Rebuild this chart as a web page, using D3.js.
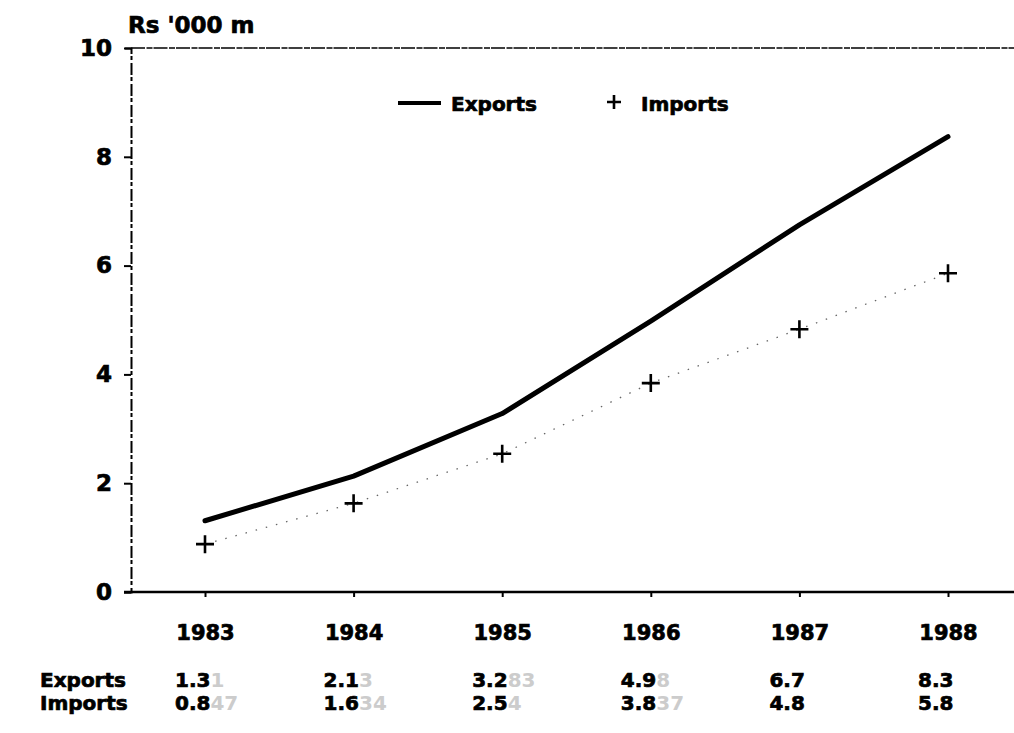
<!DOCTYPE html>
<html>
<head>
<meta charset="utf-8">
<script src="https://cdn.jsdelivr.net/npm/d3@7"></script>
<style>
  body { margin: 0; background: #fff; }
  text { font-family: "DejaVu Sans", sans-serif; font-weight: bold; fill: #000; stroke: #000; stroke-width: 0.7px; }
</style>
</head>
<body>
<script>
var width = 1014,
    height = 733;

// data
var years = [1983, 1984, 1985, 1986, 1987, 1988];
var exports = [1.31, 2.13, 3.28, 4.98, 6.75, 8.37];
var imports = [0.88, 1.63, 2.54, 3.84, 4.83, 5.86];
var yTicks = [0, 2, 4, 6, 8, 10];

// table text: clear part + smudged part
var exportLabels = [["1.3", "1"], ["2.1", "3"], ["3.2", "83"], ["4.9", "8"], ["6.7", ""], ["8.3", ""]];
var importLabels = [["0.8", "47"], ["1.6", "34"], ["2.5", "4"], ["3.8", "37"], ["4.8", ""], ["5.8", ""]];

var svg = d3.select("body").append("svg")
    .attr("width", width)
    .attr("height", height)
    .style("background", "#fff");

var x = d3.scaleLinear().domain([1983, 1988]).range([205, 948]);
var y = d3.scaleLinear().domain([0, 10]).range([592, 48]);

// top frame line
svg.append("line")
    .attr("x1", 131).attr("x2", 1014)
    .attr("y1", y(10)).attr("y2", y(10))
    .attr("stroke", "#000")
    .attr("stroke-width", 1.6)
    .attr("stroke-dasharray", "14,1.5,6,1");

// y axis
var yAxis = svg.append("g")
    .attr("transform", "translate(131,0)")
    .call(d3.axisLeft(y).tickValues(yTicks).tickSize(7).tickPadding(12));
yAxis.select(".domain")
    .attr("stroke-width", 2)
    .attr("stroke-dasharray", "12,3,4,2");
yAxis.selectAll(".tick line").attr("stroke-width", 2);
yAxis.selectAll(".tick text")
    .style("font-size", "23px")
    .style("font-family", "DejaVu Sans")
    .style("font-weight", "bold");

// x axis
var xAxis = svg.append("g")
    .attr("transform", "translate(0," + y(0) + ")")
    .call(d3.axisBottom(x).tickValues(years).tickSize(5).tickFormat(d3.format("d")).tickPadding(28));
xAxis.select(".domain")
    .attr("d", "M124,0H1014")
    .attr("stroke-width", 2.5);
xAxis.selectAll(".tick line").attr("stroke-width", 2);
xAxis.selectAll(".tick text")
    .style("font-size", "21px")
    .style("font-family", "DejaVu Sans")
    .style("font-weight", "bold");

// y unit label
svg.append("text")
    .attr("x", 128).attr("y", 33)
    .style("font-size", "23px")
    .text("Rs '000 m");

// imports: dotted line + plus markers
var line = d3.line()
    .x(function(d, i) { return x(years[i]); })
    .y(function(d) { return y(d); });

svg.append("path")
    .datum(imports)
    .attr("d", line)
    .attr("fill", "none")
    .attr("stroke", "#666")
    .attr("stroke-width", 1.3)
    .attr("stroke-dasharray", "1.5,9");

function plus(g, cx, cy, r) {
    g.append("path")
        .attr("d", "M" + (cx - r) + "," + cy + "H" + (cx + r) + "M" + cx + "," + (cy - r) + "V" + (cy + r))
        .attr("stroke", "#000")
        .attr("stroke-width", 2.6);
}

imports.forEach(function(d, i) {
    plus(svg, x(years[i]), y(d), 9);
});

// exports: thick solid line
svg.append("path")
    .datum(exports)
    .attr("d", line)
    .attr("fill", "none")
    .attr("stroke", "#000")
    .attr("stroke-width", 5)
    .attr("stroke-linecap", "round")
    .attr("stroke-linejoin", "round");

// legend
svg.append("line")
    .attr("x1", 398).attr("x2", 441)
    .attr("y1", 103).attr("y2", 103)
    .attr("stroke", "#000")
    .attr("stroke-width", 4);
svg.append("text")
    .attr("x", 451).attr("y", 111)
    .style("font-size", "20px")
    .text("Exports");
plus(svg, 614, 102, 7);
svg.append("text")
    .attr("x", 641).attr("y", 111)
    .style("font-size", "20px")
    .text("Imports");

// data table
var rows = [["Exports", exportLabels, 687], ["Imports", importLabels, 710]];
rows.forEach(function(r) {
    svg.append("text")
        .attr("x", 40).attr("y", r[2])
        .style("font-size", "20px")
        .text(r[0]);
    var t = svg.selectAll(null)
        .data(r[1])
        .enter().append("text")
        .attr("x", function(d, i) { return x(years[i]) - 30; })
        .attr("y", r[2])
        .style("font-size", "20px");
    t.append("tspan").text(function(d) { return d[0]; });
    t.append("tspan")
        .style("fill", "#ccc")
        .style("stroke", "none")
        .text(function(d) { return d[1]; });
});
</script>
</body>
</html>
